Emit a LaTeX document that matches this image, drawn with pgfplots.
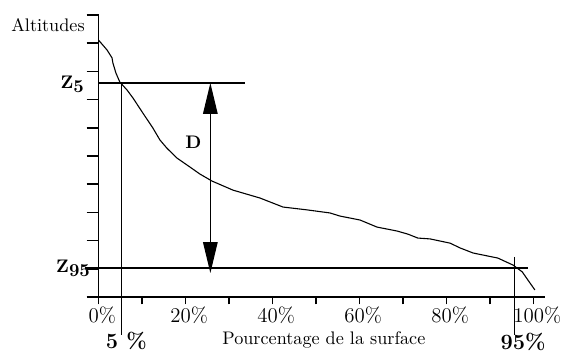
\documentclass[border=0pt]{standalone}
\usepackage{pgfplots}
\pgfplotsset{compat=1.18}
\usetikzlibrary{arrows.meta}
\begin{document}
\begin{tikzpicture}
\path[use as bounding box] (-54.2pt,-30.25pt) rectangle (257.1pt,163.35pt);
\begin{axis}[
  at={(0pt,0pt)}, anchor=south west,
  scale only axis, width=245.5pt, height=155.1pt,
  xmin=0, xmax=102.6, ymin=0, ymax=10,
  axis lines=left, axis line style={-, line width=0.9pt},
  clip=false,
  tick align=outside,
  tick style={line width=0.8pt, black},
  x tick style={/pgfplots/major tick length=4pt},
  y tick style={/pgfplots/major tick length=6.5pt},
  xtick={0,10,...,100},
  xticklabels={0\%,,20\%,,40\%,,60\%,,80\%,,100\%},
  xticklabel style={font=\fontsize{11.5}{13}\selectfont, xshift=2pt, inner sep=1pt},
  ytick={0,1,...,10},
  yticklabels={},
]
% hypsometric curve
\addplot[black, line width=0.6pt] coordinates {
(0,9.11) (1.95,8.76) (3.1,8.48) (3.3,8.30) (4.0,7.94) (4.9,7.62) (6.55,7.34)
(7.9,7.06) (10.2,6.52) (12.5,5.99) (14.1,5.57) (15.7,5.28) (18.0,4.93)
(21.0,4.61) (23.3,4.36) (26.1,4.11) (30.9,3.79) (37.1,3.51) (42.4,3.19)
(47.9,3.09) (53.2,2.98) (55.5,2.87) (60.1,2.73) (64.0,2.48) (68.6,2.34)
(71.1,2.23) (73.4,2.09) (76.2,2.06) (80.8,1.91) (83.1,1.74) (86.1,1.56)
(91.8,1.38) (95.3,1.13) (97.4,0.89) (98.7,0.60) (100.3,0.25)
};
% Z5 and Z95 horizontal lines
\addplot[black, line width=0.6pt] coordinates {(0,7.59) (33.6,7.59)};
\addplot[black, line width=0.6pt] coordinates {(-3.2,1.03) (98.6,1.03)};
% 5% and 95% vertical lines
\addplot[black, line width=0.6pt] coordinates {(5.3,7.59) (5.3,-1.35)};
\addplot[black, line width=0.6pt] coordinates {(95.6,1.42) (95.6,-1.35)};
% D arrow
\addplot[black, line width=0.6pt, {Triangle[length=17pt,width=8pt]}-{Triangle[length=17pt,width=8pt]}] coordinates {(25.7,7.59) (25.7,0.85)};
% texts
\node[anchor=east, inner sep=0pt] at (axis cs:-3.1,9.65) {Altitudes};
\node[anchor=east, inner sep=0pt] at (axis cs:-3.3,7.55) {\textbf{Z}\raisebox{-0.5ex}{\textbf{5}}};
\node[anchor=east, inner sep=0pt] at (axis cs:-1.9,1.03) {\textbf{Z}\raisebox{-0.5ex}{\textbf{95}}};
\node[inner sep=0pt] at (axis cs:21.8,5.5) {\textbf{D}};
\node[inner sep=0pt] at (axis cs:51.8,-1.52) {Pourcentage de la surface};
\node[inner sep=0pt] at (axis cs:6.4,-1.55) {\fontsize{12}{14}\selectfont\bfseries 5 \%};
\node[inner sep=0pt] at (axis cs:97.6,-1.6) {\fontsize{12}{14}\selectfont\bfseries 95\%};
\end{axis}
\end{tikzpicture}
\end{document}
